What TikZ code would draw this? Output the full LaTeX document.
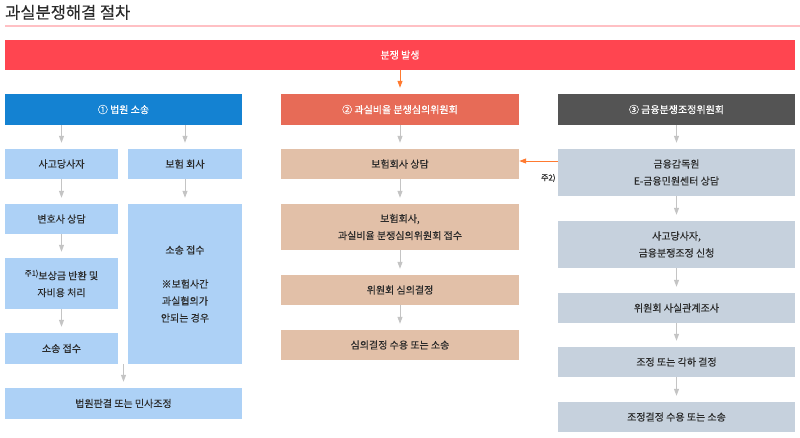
\documentclass[tikz,border=0pt]{standalone}
\usepackage{fontspec}
\setmainfont{Noto Sans CJK KR}
\newfontfamily\krmed{Noto Sans CJK KR}[FakeBold=0.25]
\usetikzlibrary{arrows.meta}
\definecolor{redbar}{HTML}{FF4550}
\definecolor{hblue}{HTML}{1482D2}
\definecolor{horange}{HTML}{E76B57}
\definecolor{hgray}{HTML}{545454}
\definecolor{lblue}{HTML}{ADD1F6}
\definecolor{ltan}{HTML}{E2C0A8}
\definecolor{lgray}{HTML}{C6D1DD}
\definecolor{txt}{HTML}{2A2A2A}
\definecolor{arrgray}{HTML}{C4C4C4}
\definecolor{arrorange}{HTML}{FF7A30}
\definecolor{pinkline}{HTML}{FFC0C4}
\begin{document}
\begin{tikzpicture}[x=1pt,y=-1pt,
  boxbase/.style={rectangle,inner sep=0pt,align=center,text=txt,
    font=\krmed\fontsize{10}{17}\selectfont},
  hdr/.style={boxbase,text=white,minimum height=31pt},
  bluebox/.style={boxbase,fill=lblue},
  tanbox/.style={boxbase,fill=ltan,minimum width=238pt},
  graybox/.style={boxbase,fill=lgray,minimum width=237pt},
  garrow/.style={draw=arrgray,line width=1pt,shorten >=6pt,
    -{Triangle[width=5pt,length=7pt]},arrgray},
  oarrow/.style={draw=arrorange,line width=1pt,
    -{Triangle[width=5pt,length=7pt]},arrorange}]
\useasboundingbox (0,0) rectangle (800,437);
\fill[white] (0,0) rectangle (800,437);
% title
\node[anchor=base west,inner sep=0pt,text=txt,font=\krmed\fontsize{16.5}{19}\selectfont] (title) at (5,18.5) {과실분쟁해결 절차};
\coordinate (pl) at (5,25.5);
\coordinate (pr) at (800,25.5);
\draw[pinkline,line width=2pt] (pl) -- (pr);
% top bar
\node[boxbase,fill=redbar,text=white,minimum width=790pt,minimum height=30pt] (top) at (400,55) {분쟁 발생};
% headers
\node[hdr,fill=hblue,minimum width=237pt] (h1) at (123.5,109.5) {① 법원 소송};
\node[hdr,fill=horange,minimum width=238pt] (h2) at (400,109.5) {② 과실비율 분쟁심의위원회};
\node[hdr,fill=hgray,minimum width=237pt] (h3) at (676.5,109.5) {③ 금융분쟁조정위원회};
% column 1
\node[bluebox,minimum width=113pt,minimum height=30pt] (a1) at (61.5,164) {사고당사자};
\node[bluebox,minimum width=114pt,minimum height=30pt] (b1) at (185,164) {보험 회사};
\node[bluebox,minimum width=113pt,minimum height=30pt] (a2) at (61.5,219) {변호사 상담};
\node[bluebox,minimum width=114pt,minimum height=160pt] (b2) at (185,284) {소송 접수\\[17pt]※보험사간\\과실협의가\\안되는 경우};
\node[bluebox,minimum width=113pt,minimum height=51pt] (a3) at (61.5,283.5) {\raisebox{0.35em}{\fontsize{7.5}{8}\selectfont 주1)}보상금 반환 및\\자비용 처리};
\node[bluebox,minimum width=113pt,minimum height=31pt] (a4) at (61.5,348.5) {소송 접수};
\node[bluebox,minimum width=237pt,minimum height=31pt] (c1) at (123.5,403.5) {법원판결 또는 민사조정};
% column 2
\node[tanbox,minimum height=30pt] (d1) at (400,164) {보험회사 상담};
\node[tanbox,minimum height=46pt] (d2) at (400,227) {보험회사,\\과실비율 분쟁심의위원회 접수};
\node[tanbox,minimum height=30pt] (d3) at (400,290) {위원회 심의결정};
\node[tanbox,minimum height=30pt] (d4) at (400,345) {심의결정 수용 또는 소송};
% column 3
\node[graybox,minimum height=47pt] (e1) at (676.5,172.5) {금융감독원\\E-금융민원센터 상담};
\node[graybox,minimum height=47pt] (e2) at (676.5,244.5) {사고당사자,\\금융분쟁조정 신청};
\node[graybox,minimum height=30pt] (e3) at (676.5,308) {위원회 사실관계조사};
\node[graybox,minimum height=30pt] (e4) at (676.5,362) {조정 또는 각하 결정};
\node[graybox,minimum height=30pt] (e5) at (676.5,417) {조정결정 수용 또는 소송};
% arrows
\draw[oarrow,shorten >=6pt] (top.south) -- (h2.north);
\draw[garrow] (h1.south -| a1.north) -- (a1.north);
\draw[garrow] (h1.south -| b1.north) -- (b1.north);
\draw[garrow] (a1) -- (a2);
\draw[garrow] (b1) -- (b2);
\draw[garrow] (a2) -- (a3);
\draw[garrow] (a3) -- (a4);
\draw[garrow] (c1.north |- a4.south) -- (c1.north);
\draw[garrow] (h2) -- (d1);
\draw[garrow] (d1) -- (d2);
\draw[garrow] (d2) -- (d3);
\draw[garrow] (d3) -- (d4);
\draw[garrow] (h3) -- (e1);
\draw[garrow] (e1) -- (e2);
\draw[garrow] (e2) -- (e3);
\draw[garrow] (e3) -- (e4);
\draw[garrow] (e4) -- (e5);
\draw[oarrow] ([yshift=11.5pt]e1.west) -- ([yshift=11.5pt]e1.west -| d1.east);
\node[anchor=east,inner sep=0pt,text=txt,font=\krmed\fontsize{8}{9}\selectfont] (n2) at ([xshift=-2pt,yshift=-5.5pt]e1.west) {주2)};
\end{tikzpicture}
\end{document}
